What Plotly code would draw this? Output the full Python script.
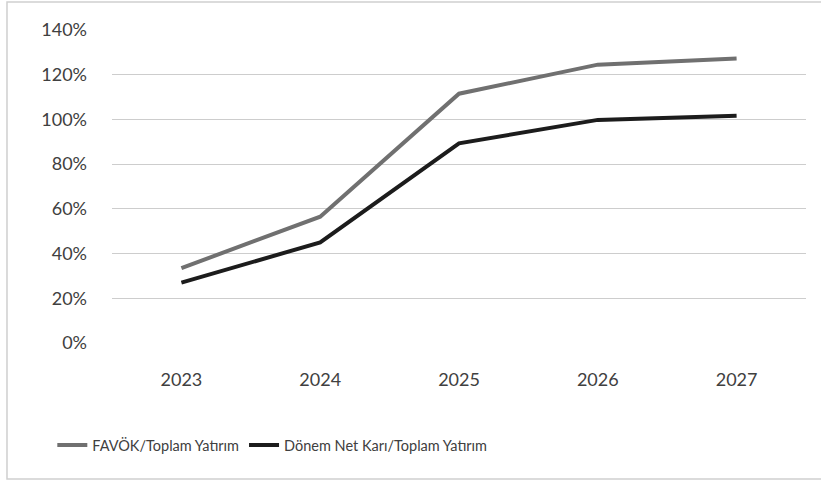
import plotly.graph_objects as go

years = ["2023", "2024", "2025", "2026", "2027"]
favok = [33.5, 56.5, 111.5, 124.5, 127.3]
net_kar = [27.0, 45.0, 89.3, 99.8, 101.7]
names = ["FAVÖK/Toplam Yatırım", "Dönem Net Karı/Toplam Yatırım"]
y_ticks = [0, 20, 40, 60, 80, 100, 120, 140]
y_labels = [f"{v}%" for v in y_ticks]

FONT = "Lato, Open Sans, sans-serif"

fig = go.Figure()
fig.add_trace(go.Scatter(x=years, y=favok, mode="lines", name=names[0],
                         line=dict(color="#707070", width=4)))
fig.add_trace(go.Scatter(x=years, y=net_kar, mode="lines", name=names[1],
                         line=dict(color="#1c1c1c", width=4)))

fig.update_layout(
    width=821, height=483,
    margin=dict(l=112, r=15, t=30, b=140),
    paper_bgcolor="white", plot_bgcolor="white",
    font=dict(family=FONT, size=18, color="#404040"),
    showlegend=True,
    legend=dict(orientation="h", x=-0.086, xanchor="left", y=-0.326, yanchor="middle",
                font=dict(size=14.5, color="#404040"), itemwidth=30, tracegroupgap=0,
                bgcolor="rgba(0,0,0,0)"),
    xaxis=dict(type="category", range=[-0.5, 4.5], showgrid=False, zeroline=False,
               showline=False, ticks="", ticklabelstandoff=24, tickfont=dict(size=18)),
    yaxis=dict(range=[0, 140], tickvals=y_ticks, ticktext=y_labels,
               showgrid=True, gridcolor="#cdcdcd", gridwidth=1.3,
               zeroline=False, showline=False, ticks="", ticklabelstandoff=24,
               tickfont=dict(size=18)),
    shapes=[dict(type="rect", xref="paper", yref="paper",
                 x0=-0.1513, x1=1.03, y0=-0.4345, y1=1.0895,
                 line=dict(color="#cfcfcf", width=1.5), layer="below")],
)

fig.write_html("out.html")
